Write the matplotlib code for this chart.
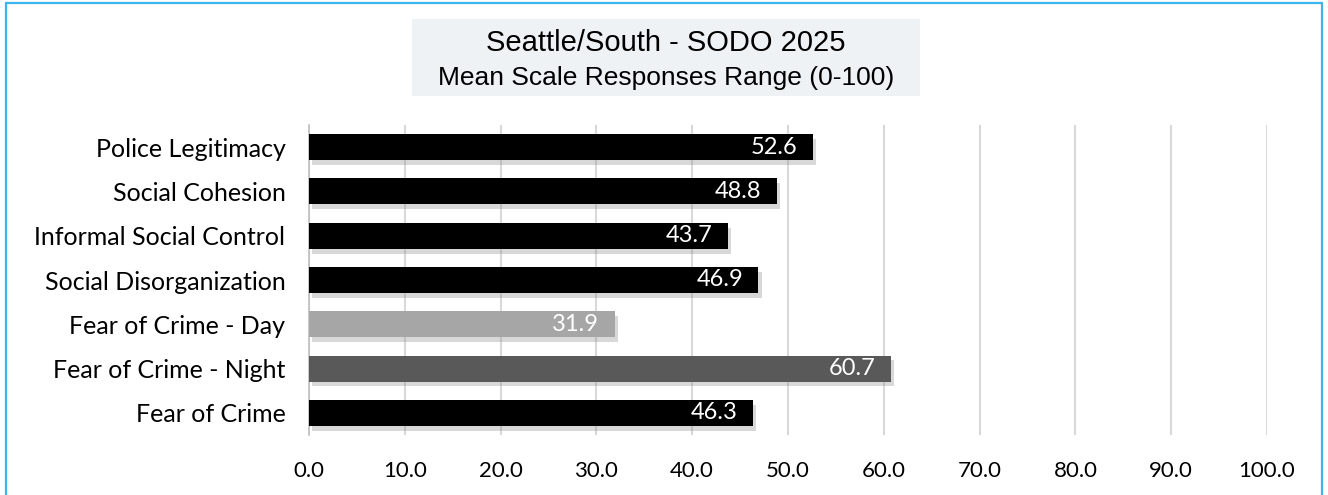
import matplotlib
matplotlib.use("Agg")
import matplotlib.pyplot as plt
import matplotlib.patheffects as pe
from matplotlib.patches import Rectangle

categories = ["Police Legitimacy", "Social Cohesion", "Informal Social Control",
              "Social Disorganization", "Fear of Crime - Day", "Fear of Crime - Night",
              "Fear of Crime"]
values = [52.6, 48.8, 43.7, 46.9, 31.9, 60.7, 46.3]
bar_colors = ["#000000", "#000000", "#000000", "#000000", "#a6a6a6", "#595959", "#000000"]
xticks = [0, 10, 20, 30, 40, 50, 60, 70, 80, 90, 100]
title1 = "Seattle/South - SODO 2025"
title2 = "Mean Scale Responses Range (0-100)"

W, H = 1328, 495
fig = plt.figure(figsize=(W / 100, H / 100), dpi=100)
fig.patch.set_facecolor("white")

# blue frame
fig.add_artist(Rectangle((6 / W, -0.02), (1322 - 6) / W, 1 - 3 / H + 0.02,
                         transform=fig.transFigure, fill=False,
                         edgecolor="#3db4ee", linewidth=1.6))

ax = fig.add_axes([309 / W, 1 - 435 / H, (1267 - 309) / W, 310 / H])
y = list(range(len(categories)))
bars = ax.barh(y, values, height=0.59, color=bar_colors, zorder=3)
for b in bars:
    b.set_path_effects([pe.SimplePatchShadow(offset=(2.5, -3.5), shadow_rgbFace="#808080", alpha=0.3),
                        pe.Normal()])

label_font = "Lato"
for yi, v in zip(y, values):
    ax.annotate(f"{v:.1f}", xy=(v, yi), xytext=(-11, 0), textcoords="offset points",
                ha="right", va="center", color="white", fontsize=17,
                family=label_font, zorder=4)

ax.set_xlim(0, 100)
ax.set_ylim(len(categories) - 0.5, -0.5)
ax.set_xticks(xticks)
ax.set_xticklabels([f"{t:.1f}" for t in xticks], family=label_font, fontsize=16)
ax.set_yticks(y)
ax.set_yticklabels(categories, family=label_font, fontsize=18)
ax.tick_params(axis="both", length=0)
ax.tick_params(axis="x", pad=19)
ax.tick_params(axis="y", pad=17)
ax.grid(axis="x", color="#d9d9d9", linewidth=1.5, zorder=0)
ax.set_axisbelow(True)
for s in ["top", "right", "bottom"]:
    ax.spines[s].set_visible(False)
ax.spines["left"].set_color("#bfbfbf")
ax.spines["left"].set_linewidth(1.2)

# title box
fig.add_artist(Rectangle((412 / W, 1 - 96 / H), (920 - 412) / W, 77 / H,
                         transform=fig.transFigure, facecolor="#eef2f5",
                         edgecolor="none"))
fig.text(666 / W, 1 - 43 / H, title1, ha="center", va="center",
         family="Liberation Sans", fontsize=21)
fig.text(666 / W, 1 - 78 / H, title2, ha="center", va="center",
         family="Liberation Sans", fontsize=19)

fig.savefig("out.png", dpi=100)
